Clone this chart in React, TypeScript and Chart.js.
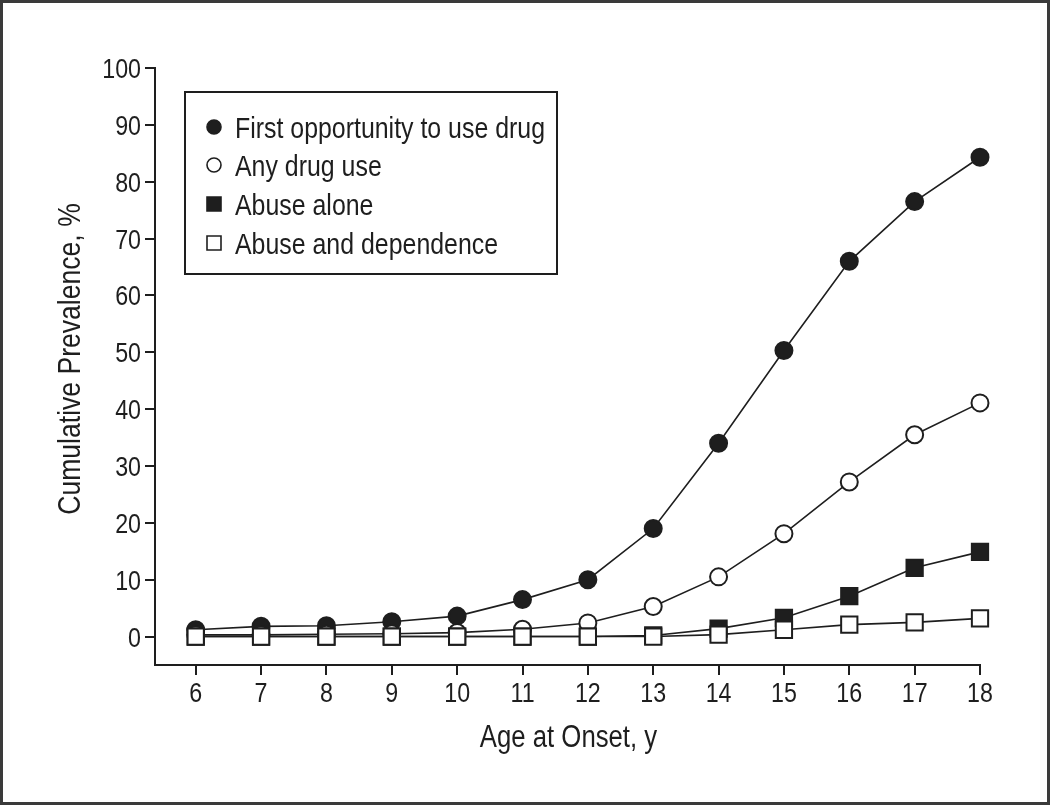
import React, { useEffect, useRef } from "react";
import { Chart, registerables } from "chart.js";

Chart.register(...registerables);

const ages = [6, 7, 8, 9, 10, 11, 12, 13, 14, 15, 16, 17, 18];
const firstOpportunity = [1.2, 1.8, 1.9, 2.6, 3.6, 6.5, 10.0, 19.0, 34.0, 50.3, 66.0, 76.5, 84.3];
const anyDrugUse = [0.3, 0.3, 0.4, 0.5, 0.7, 1.3, 2.4, 5.3, 10.5, 18.1, 27.2, 35.5, 41.1];
const abuseAlone = [0, 0, 0, 0, 0, 0, 0, 0.2, 1.4, 3.3, 7.1, 12.1, 14.9];
const abuseDependence = [0, 0, 0, 0, 0, 0, 0, 0, 0.35, 1.2, 2.1, 2.5, 3.2];
const seriesLabels = [
  "First opportunity to use drug",
  "Any drug use",
  "Abuse alone",
  "Abuse and dependence",
];
const xTicks = [6, 7, 8, 9, 10, 11, 12, 13, 14, 15, 16, 17, 18];
const yTicks = [0, 10, 20, 30, 40, 50, 60, 70, 80, 90, 100];
const xTitle = "Age at Onset, y";
const yTitle = "Cumulative Prevalence, %";

const FONT = "'Liberation Sans', Arimo, Arial, sans-serif";
const SX = 0.83; // horizontal condensing to mimic a condensed grotesque
const INK = "#1e1e1e";

type Marker = { style: "circle" | "rect"; fill: string };
const markers: Marker[] = [
  { style: "circle", fill: INK },
  { style: "circle", fill: "#ffffff" },
  { style: "rect", fill: INK },
  { style: "rect", fill: "#ffffff" },
];

function drawText(
  ctx: CanvasRenderingContext2D,
  text: string,
  x: number,
  y: number,
  size: number,
  align: CanvasTextAlign,
  rotate = false
) {
  ctx.save();
  ctx.translate(x, y);
  if (rotate) ctx.rotate(-Math.PI / 2);
  ctx.scale(SX, 1);
  ctx.font = `${size}px ${FONT}`;
  ctx.fillStyle = INK;
  ctx.textAlign = align;
  ctx.textBaseline = "alphabetic";
  ctx.fillText(text, 0, 0);
  ctx.restore();
}

const textPlugin = {
  id: "condensedText",
  afterDraw(chart: any) {
    const ctx = chart.ctx as CanvasRenderingContext2D;
    const xs = chart.scales.x;
    const ys = chart.scales.y;
    // y tick labels
    yTicks.forEach((v) => {
      drawText(ctx, String(v), 141, ys.getPixelForValue(v) + 10, 28, "right");
    });
    // x tick labels
    xTicks.forEach((v) => {
      drawText(ctx, String(v), xs.getPixelForValue(v), 702, 28, "center");
    });
    // axis titles
    drawText(ctx, xTitle, (xs.left + xs.right) / 2 + 1, 747, 31, "center");
    drawText(ctx, yTitle, 80, 359, 32, "center", true);

    // legend
    ctx.save();
    ctx.strokeStyle = INK;
    ctx.lineWidth = 2;
    ctx.strokeRect(185, 92, 372, 182);
    const baselines = [138, 176, 215, 254];
    seriesLabels.forEach((label, i) => {
      const by = baselines[i];
      const cy = by - 11;
      const m = markers[i];
      ctx.fillStyle = m.fill;
      ctx.strokeStyle = INK;
      ctx.lineWidth = 1.6;
      ctx.beginPath();
      if (m.style === "circle") {
        ctx.arc(214, cy, 7, 0, Math.PI * 2);
      } else {
        ctx.rect(207, cy - 7, 14, 14);
      }
      ctx.fill();
      ctx.stroke();
      drawText(ctx, label, 235, by, 30, "left");
    });
    ctx.restore();
  },
};

export default function App() {
  const canvasRef = useRef<HTMLCanvasElement | null>(null);

  useEffect(() => {
    const canvas = canvasRef.current;
    if (!canvas) return;
    const mk = (label: string, data: number[], i: number, order: number) => ({
      label,
      data: ages.map((a, k) => ({ x: a, y: data[k] })),
      borderColor: INK,
      borderWidth: 1.6,
      pointStyle: markers[i].style,
      pointRadius: markers[i].style === "circle" ? 8.5 : 11.5,
      pointBorderWidth: 2,
      pointBackgroundColor: markers[i].fill,
      pointBorderColor: INK,
      backgroundColor: markers[i].fill,
      tension: 0,
      clip: false as any,
      order,
    });
    const tickGrid = {
      drawOnChartArea: false,
      drawTicks: true,
      tickLength: 10,
      color: INK,
      lineWidth: 2,
    };
    const chart = new Chart(canvas, {
      type: "line",
      data: {
        datasets: [
          mk(seriesLabels[0], firstOpportunity, 0, 4),
          mk(seriesLabels[1], anyDrugUse, 1, 3),
          mk(seriesLabels[2], abuseAlone, 2, 2),
          mk(seriesLabels[3], abuseDependence, 3, 1),
        ] as any,
      },
      options: {
        responsive: false,
        animation: false,
        layout: { padding: { top: 68, right: 70, bottom: 0, left: 0 } },
        plugins: {
          legend: { display: false },
          tooltip: { enabled: false },
          title: { display: false },
        },
        scales: {
          x: {
            type: "linear",
            min: 5.377,
            max: 18,
            afterBuildTicks: (s: any) => {
              s.ticks = xTicks.map((v) => ({ value: v }));
            },
            afterFit: (s: any) => {
              s.height = 140;
            },
            grid: tickGrid,
            border: { display: true, color: INK, width: 2 },
            ticks: { display: false },
            title: { display: false },
          },
          y: {
            type: "linear",
            min: -5,
            max: 100,
            afterBuildTicks: (s: any) => {
              s.ticks = yTicks.map((v) => ({ value: v }));
            },
            afterFit: (s: any) => {
              s.width = 155;
            },
            grid: tickGrid,
            border: { display: true, color: INK, width: 2 },
            ticks: { display: false },
            title: { display: false },
          },
        },
      },
      plugins: [textPlugin],
    });
    return () => chart.destroy();
  }, []);

  return (
    <div style={{ position: "absolute", left: 0, top: 0, width: 1050, height: 805, background: "#fff" }}>
      <canvas ref={canvasRef} width={1050} height={805} style={{ position: "absolute", left: 0, top: 0 }} />
      <div
        style={{
          position: "absolute",
          left: 0,
          top: 0,
          width: 1050,
          height: 805,
          boxSizing: "border-box",
          border: "3px solid #3a3a3a",
          pointerEvents: "none",
        }}
      />
    </div>
  );
}
